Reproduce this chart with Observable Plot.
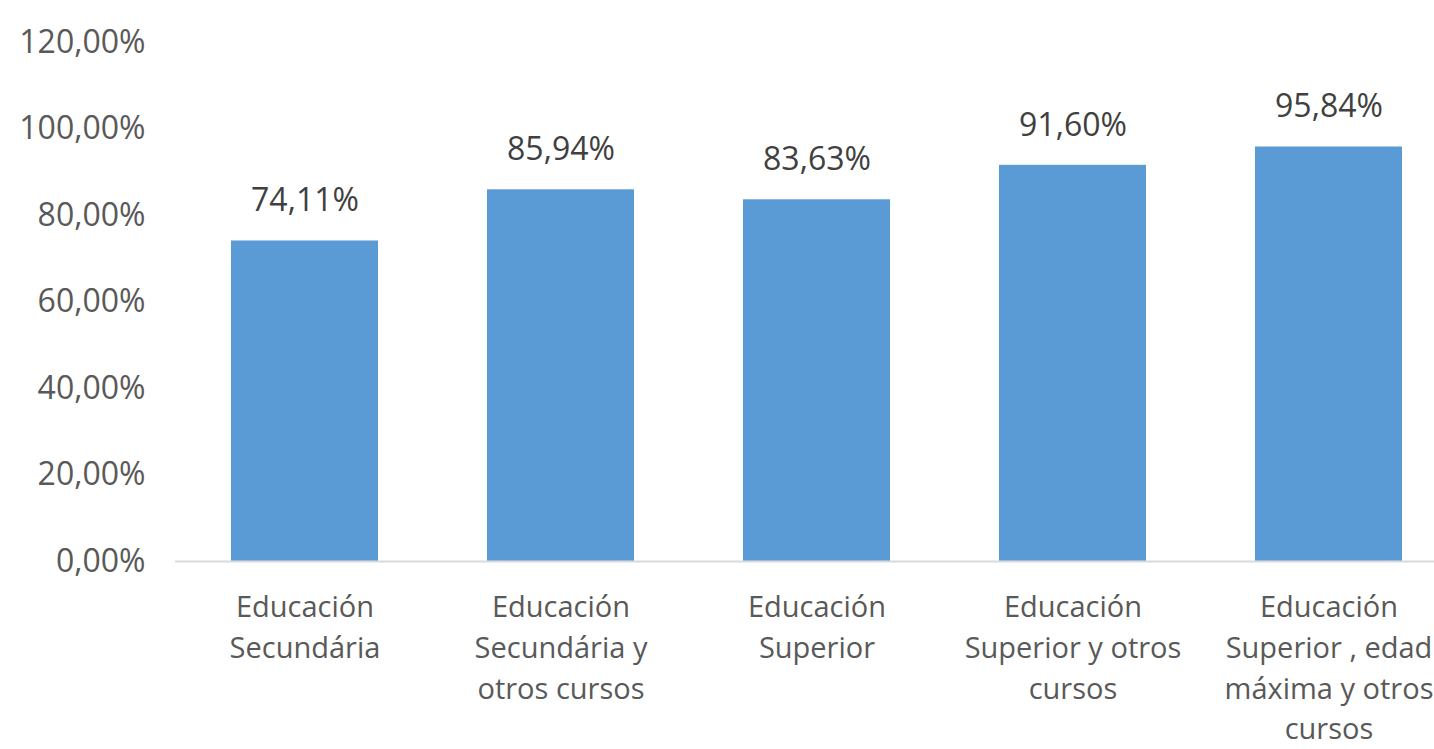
<!DOCTYPE html>
<html>
<head>
<meta charset="utf-8">
<script src="https://cdn.jsdelivr.net/npm/d3@7"></script>
<script src="https://cdn.jsdelivr.net/npm/@observablehq/plot@0.6"></script>
<style>
  html, body { margin: 0; padding: 0; background: #fff; overflow: hidden; width: 1434px; height: 749px; }
  #chart svg { display: block; max-width: none !important; }
</style>
</head>
<body>
<div id="chart"></div>
<script>
const categories = [
  "Educación\nSecundária",
  "Educación\nSecundária y\notros cursos",
  "Educación\nSuperior",
  "Educación\nSuperior y otros\ncursos",
  "Educación\nSuperior , edad\nmáxima y otros\ncursos"
];
const values = [0.7411, 0.8594, 0.8363, 0.9160, 0.9584];
const yTicks = [0, 0.2, 0.4, 0.6, 0.8, 1.0, 1.2];

const data = categories.map((c, i) => ({category: c, value: values[i]}));
const pct = d => (d * 100).toFixed(2).replace(".", ",") + "%";

const chart = Plot.plot({
  width: 1458,
  height: 749,
  marginTop: 42,
  marginBottom: 188,
  marginLeft: 175,
  marginRight: 0,
  style: {fontFamily: "'Open Sans', sans-serif", background: "#fff", maxWidth: "none"},
  x: {domain: categories, paddingInner: 0.427, paddingOuter: 0.2135, label: null},
  y: {domain: [0, 1.2], label: null},
  marks: [
    Plot.axisY({ticks: yTicks, tickFormat: pct, tickSize: 0, tickPadding: 30,
      fontSize: 32, fill: "#595959", label: null}),
    Plot.barY(data, {x: "category", y: "value", fill: "#5B9BD5"}),
    Plot.ruleY([0], {stroke: "#d9d9d9", strokeWidth: 2}),
    Plot.axisX({tickSize: 0, tickPadding: 27, fontSize: 29, fill: "#595959",
      lineHeight: 1.4, label: null}),
    Plot.text(data, {x: "category", y: "value", text: d => pct(d.value),
      dy: -40, fontSize: 32, fill: "#404040"})
  ]
});
document.getElementById("chart").appendChild(chart);
</script>
</body>
</html>
